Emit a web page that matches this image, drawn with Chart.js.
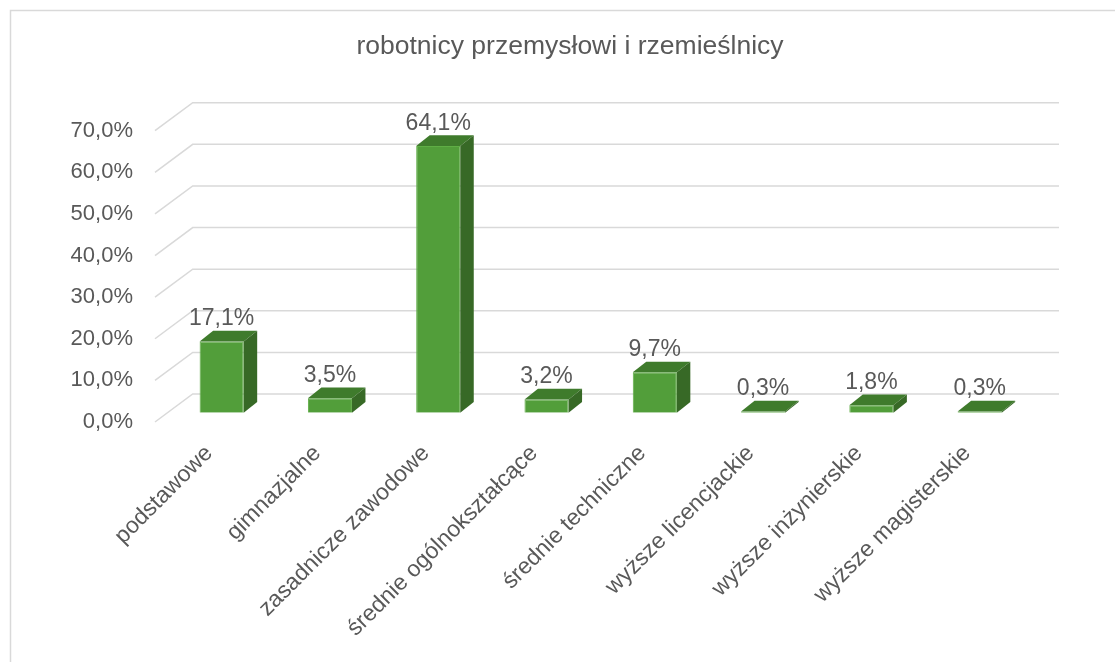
<!DOCTYPE html>
<html lang="pl">
<head>
<meta charset="utf-8">
<title>robotnicy przemysłowi i rzemieślnicy</title>
<script src="https://cdn.jsdelivr.net/npm/chart.js@4/dist/chart.umd.min.js"></script>
<style>
    html, body { margin: 0; padding: 0; background: #fff; }
    #wrap { width: 1115px; height: 662px; }
</style>
</head>
<body>
<div id="wrap"><canvas id="eduChart" width="1115" height="662"></canvas></div>
<script>
const chartTitle = 'robotnicy przemysłowi i rzemieślnicy';
const categories = ['podstawowe', 'gimnazjalne', 'zasadnicze zawodowe', 'średnie ogólnokształcące',
    'średnie techniczne', 'wyższe licencjackie', 'wyższe inżynierskie', 'wyższe magisterskie'];
const shares = [17.1, 3.5, 64.1, 3.2, 9.7, 0.3, 1.8, 0.3];
const axisMin = 0;
const axisMax = 70;
const axisStep = 10;

const FONT = '"Liberation Sans", Arial, sans-serif';
const TEXT = '#595959';
const GRID = '#d9d9d9';

// fake 3D: floor depth, bar row position and bar thickness
const WALL = { dx: 37.7, dy: -28 };
const ROW = { dx: 12.5, dy: -9.3 };
const BAR = { dx: 13.5, dy: -10.7 };

const pct = v => v.toFixed(1).replace('.', ',') + '%';

const depthPlugin = {
    id: 'depth3d',
    beforeDraw(chart) {
        const ctx = chart.ctx;
        ctx.save();
        ctx.fillStyle = '#fff';
        ctx.fillRect(0, 0, chart.width, chart.height);
        ctx.strokeStyle = GRID;
        ctx.lineWidth = 1.5;
        ctx.strokeRect(10.5, 10.5, chart.width + 20, chart.height + 20);
        ctx.fillStyle = TEXT;
        ctx.font = '26.5px ' + FONT;
        ctx.textAlign = 'center';
        ctx.textBaseline = 'middle';
        ctx.fillText(chartTitle, 570, 47);
        ctx.restore();
    },
    beforeDatasetsDraw(chart) {
        const ctx = chart.ctx;
        const area = chart.chartArea;
        const y = chart.scales.y;
        ctx.save();
        ctx.strokeStyle = GRID;
        ctx.lineWidth = 1.5;
        for (let v = axisMin; v <= axisMax; v += axisStep) {
            const py = y.getPixelForValue(v);
            ctx.beginPath();
            ctx.moveTo(area.left, py);
            ctx.lineTo(area.left + WALL.dx, py + WALL.dy);
            ctx.lineTo(area.right + WALL.dx, py + WALL.dy);
            ctx.stroke();
        }
        ctx.restore();
        // bars sit part way back on the floor
        ctx.save();
        ctx.translate(ROW.dx, ROW.dy);
    },
    afterDatasetsDraw(chart) {
        const ctx = chart.ctx;
        const meta = chart.getDatasetMeta(0);
        meta.data.forEach((bar, i) => {
            const p = bar.getProps(['x', 'y', 'base', 'width'], true);
            const l = p.x - p.width / 2;
            const r = p.x + p.width / 2;
            // top face
            ctx.fillStyle = '#3f7b2c';
            ctx.beginPath();
            ctx.moveTo(l, p.y);
            ctx.lineTo(r, p.y);
            ctx.lineTo(r + BAR.dx, p.y + BAR.dy);
            ctx.lineTo(l + BAR.dx, p.y + BAR.dy);
            ctx.closePath();
            ctx.fill();
            // side face
            ctx.fillStyle = '#376926';
            ctx.beginPath();
            ctx.moveTo(r, p.y);
            ctx.lineTo(r + BAR.dx, p.y + BAR.dy);
            ctx.lineTo(r + BAR.dx, p.base + BAR.dy);
            ctx.lineTo(r, p.base);
            ctx.closePath();
            ctx.fill();
            // value label
            ctx.fillStyle = TEXT;
            ctx.font = '23px ' + FONT;
            ctx.textAlign = 'center';
            ctx.textBaseline = 'alphabetic';
            ctx.fillText(pct(shares[i]), p.x, p.y + BAR.dy - 5.5);
        });
        ctx.restore();
    }
};

new Chart(document.getElementById('eduChart'), {
    type: 'bar',
    data: {
        labels: categories,
        datasets: [{
            data: shares,
            backgroundColor: '#529e3a',
            borderColor: '#5fae45',
            borderWidth: 1,
            categoryPercentage: 1,
            barPercentage: 0.407
        }]
    },
    options: {
        responsive: false,
        animation: false,
        devicePixelRatio: 1,
        layout: { padding: { left: 0, top: 130.7, right: 93.7, bottom: 0 } },
        plugins: {
            legend: { display: false },
            tooltip: { enabled: false }
        },
        scales: {
            x: {
                grid: { display: false, drawTicks: false },
                border: { display: false },
                ticks: {
                    color: TEXT,
                    font: { family: FONT, size: 23 },
                    minRotation: 45,
                    maxRotation: 45,
                    autoSkip: false,
                    padding: 18
                },
                afterFit(scale) { scale.height = 240; }
            },
            y: {
                min: axisMin,
                max: axisMax,
                grid: { display: false, drawTicks: false },
                border: { display: false },
                ticks: {
                    stepSize: axisStep,
                    color: TEXT,
                    font: { family: FONT, size: 22 },
                    padding: 22,
                    callback: v => pct(v)
                },
                afterFit(scale) { scale.width = 155; }
            }
        }
    },
    plugins: [depthPlugin]
});
</script>
</body>
</html>
